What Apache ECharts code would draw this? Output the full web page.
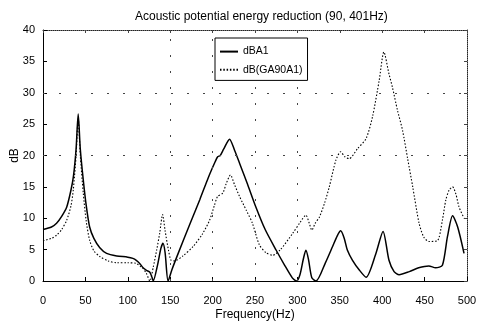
<!DOCTYPE html>
<html>
<head>
<meta charset="utf-8">
<script src="https://cdn.jsdelivr.net/npm/echarts@6/dist/echarts.min.js"></script>
<style>html,body{margin:0;padding:0;background:#fff;}#c{width:480px;height:324px;}</style>
</head>
<body>
<div id="c"></div>
<script>
var titleText = 'Acoustic potential energy reduction (90, 401Hz)';
var xName = 'Frequency(Hz)';
var yName = 'dB';
var seriesNames = ['dBA1', 'dB(GA90A1)'];
var xTicks = [0, 50, 100, 150, 200, 250, 300, 350, 400, 450, 500];
var yTicks = [0, 5, 10, 15, 20, 25, 30, 35, 40];
var gridX = [150, 200, 250, 300];
var gridY = [20, 30];

var dBA1 = [
  [0, 8.2], [10, 8.6], [16, 9.2], [22, 10.3], [28, 11.8], [33, 14.5], [36, 16.8], [39, 21], [41.5, 26.6],
  [44, 21], [47.5, 16.1], [51, 12], [55, 8.6], [60, 6.8], [67, 5.3], [75, 4.4], [87, 4.0], [100, 3.8],
  [106, 3.6], [110, 3.3], [114, 2.8], [118, 2.1], [122, 1.7], [126, 1.4], [128.5, 0.6], [130, 0],
  [135, 2.5], [139, 5.2], [141.5, 6.0], [144, 4.5], [147.5, 0], [152, 1.8], [160, 4.6], [173, 9],
  [185, 13], [195, 16.5], [203, 19], [206, 19.8], [209, 20], [213, 21], [220, 22.6], [226, 20.8],
  [232, 18.7], [241, 15.5], [251, 11.8], [262, 8.2], [275, 4.9], [285, 2.5], [294, 0.5], [299, 0],
  [303, 1.0], [307, 3.5], [310, 4.9], [313, 3.5], [317, 0.5], [322, 0], [333, 2.9], [341.5, 5.5],
  [347, 7.2], [351, 8.0], [355, 6.9], [359, 4.9], [365, 3.3], [373, 1.75], [381, 0.6], [392.6, 4.4],
  [401, 7.9], [408, 3.3], [414, 1.5], [420, 1.0], [432, 1.5], [443, 2.1], [455, 2.4], [463, 2.1],
  [471, 2.5], [477, 7.1], [483, 10.4], [489, 8.6], [496.5, 4.4]
];

var dBGA90A1 = [
  [0, 6.4], [10, 6.8], [16, 7.3], [22, 8.2], [28, 9.7], [33, 12], [35.7, 14.5], [39, 20], [41.5, 25.9],
  [44, 20], [47.5, 14], [51, 9.5], [55, 6.5], [60, 4.8], [67, 3.9], [77, 3.2], [87, 2.9], [100, 2.9],
  [110, 2.8], [115, 2.3], [118, 2.0], [122, 1.2], [126, 0], [130, 2.2], [134, 4.9], [137.6, 7.6],
  [141, 10.6], [144, 8], [148, 4.9], [151, 3.3], [155, 3.2], [165, 4.0], [177, 5.5], [188, 7.5],
  [196.5, 9.7], [202, 12], [206, 13.5], [212, 14], [216, 15.5], [221, 16.9], [226, 15.3], [232, 13.4],
  [240, 11.2], [247, 9.2], [255, 5.8], [263, 4.5], [271, 4.1], [280, 5], [294.5, 7.6], [303, 9.3],
  [310, 10.5], [314, 9.2], [317, 8.1], [321, 9.2], [326, 10.2], [332, 12.4], [337.6, 15], [345.5, 19.3],
  [351, 20.6], [356, 19.8], [361, 19.5], [371, 21.1], [381, 22.7], [388.6, 26.2], [396.5, 32], [402, 36.5],
  [408, 33], [412, 30.9], [418, 27.2], [424, 24], [430, 19.5], [436, 15], [443.5, 9.2], [449, 7],
  [455, 6.3], [465, 6.4], [471, 9.7], [475, 12.9], [479, 14.5], [483, 15.0], [487, 13.8], [490.6, 11.8], [496.5, 10.0]
];

var font = 'Liberation Sans, Arial, Helvetica, sans-serif';
var chart = echarts.init(document.getElementById('c'), null, {renderer: 'canvas'});

var gridLines = [];
gridX.forEach(function (v) { gridLines.push({xAxis: v}); });
gridY.forEach(function (v) { gridLines.push({yAxis: v}); });

chart.setOption({
  animation: false,
  backgroundColor: '#fff',
  title: {
    text: titleText, left: 130, top: 6,
    textStyle: {fontFamily: font, fontSize: 12, fontWeight: 'normal', color: '#000'}
  },
  legend: {
    data: seriesNames, orient: 'vertical', left: 215, top: 38, z: 50, zlevel: 1,
    backgroundColor: '#fff', borderColor: '#000', borderWidth: 1,
    padding: [8, 5, 5, 4], itemWidth: 18, itemHeight: 14, itemGap: 7,
    itemStyle: {opacity: 0},
    textStyle: {fontFamily: font, fontSize: 10.5, color: '#000'}
  },
  grid: {left: 43, right: 13, top: 30, bottom: 43, containLabel: false, outerBoundsMode: 'none'},
  xAxis: [{
    type: 'value', min: 0, max: 500, interval: 50, position: 'bottom',
    name: xName, nameLocation: 'middle', nameGap: 28, nameMoveOverlap: false,
    nameTextStyle: {fontFamily: font, fontSize: 12, color: '#000'},
    axisLine: {show: true, onZero: false, lineStyle: {color: '#000', width: 1}},
    axisTick: {show: true, inside: true, length: 4, lineStyle: {color: '#000'}},
    axisLabel: {fontFamily: font, fontSize: 11, color: '#000', margin: 14},
    splitLine: {show: false}
  }, {
    type: 'value', min: 0, max: 500, interval: 50, position: 'top',
    axisLine: {show: true, onZero: false, lineStyle: {color: '#222', width: 1, type: 'dotted'}},
    axisTick: {show: true, inside: true, length: 3, lineStyle: {color: '#444'}},
    axisLabel: {show: false}, splitLine: {show: false}
  }],
  yAxis: [{
    type: 'value', min: 0, max: 40, interval: 5, position: 'left',
    name: yName, nameLocation: 'middle', nameGap: 22, nameRotate: 90, nameMoveOverlap: false,
    nameTextStyle: {fontFamily: font, fontSize: 12, color: '#000'},
    axisLine: {show: true, onZero: false, lineStyle: {color: '#000', width: 1}},
    axisTick: {show: true, inside: true, length: 4, lineStyle: {color: '#000'}},
    axisLabel: {fontFamily: font, fontSize: 11, color: '#000', margin: 8},
    splitLine: {show: false}
  }, {
    type: 'value', min: 0, max: 40, interval: 5, position: 'right',
    axisLine: {show: true, onZero: false, lineStyle: {color: '#222', width: 1, type: 'dotted'}},
    axisTick: {show: true, inside: true, length: 3, lineStyle: {color: '#444'}},
    axisLabel: {show: false}, splitLine: {show: false}
  }],
  series: [{
    name: seriesNames[0], type: 'line', data: dBA1, smooth: 0.25, symbol: 'none', clip: true,
    lineStyle: {color: '#000', width: 1.5, type: 'solid'}, itemStyle: {color: '#000'},
    markLine: {
      silent: true, symbol: 'none', label: {show: false},
      lineStyle: {color: '#444', width: 1, type: [2, 14]},
      data: gridLines
    }
  }, {
    name: seriesNames[1], type: 'line', data: dBGA90A1, smooth: 0.25, symbol: 'none', clip: true,
    lineStyle: {color: '#000', width: 1.1, type: [1.5, 1.8]}, itemStyle: {color: '#000'}
  }]
});
</script>
</body>
</html>
